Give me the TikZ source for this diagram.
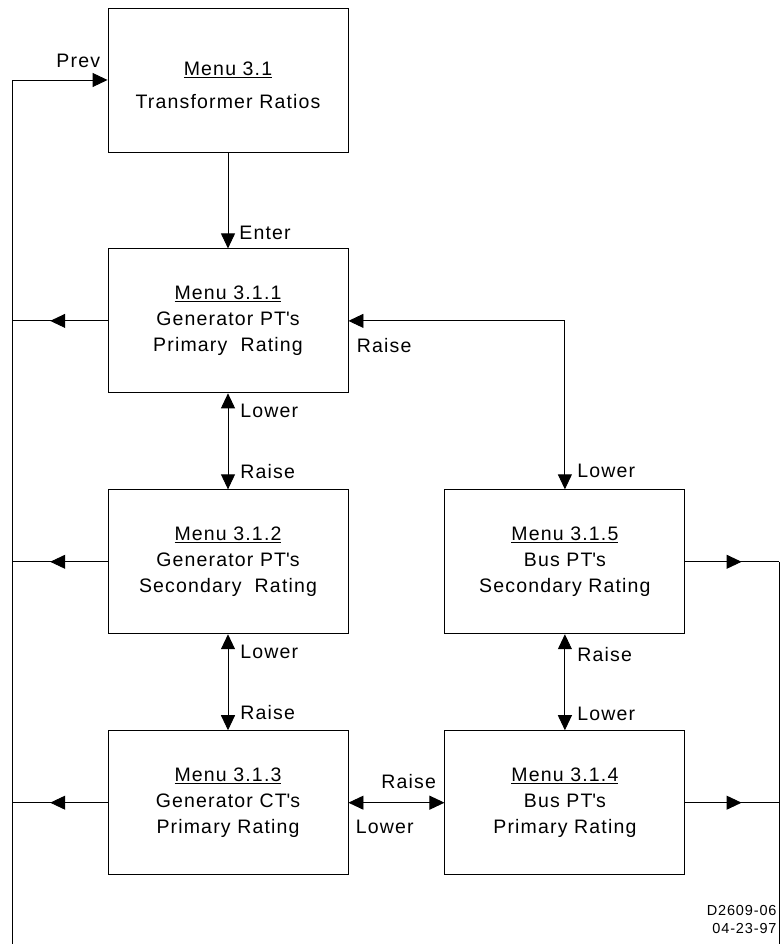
\documentclass[tikz,border=0pt]{standalone}
\usepackage{fontspec}
\setmainfont{Liberation Sans}[LetterSpace=6.0]
\usetikzlibrary{arrows.meta,positioning,decorations.markings}
\newcommand{\q}{\textquotesingle}

\begin{document}
\begin{tikzpicture}[x=1pt,y=1pt,node distance=96pt,line width=0.9pt,
    tip/.style={-{Triangle[length=15pt,width=14pt]}},
    dblarr/.style={{Triangle[length=15pt,width=14pt]}-{Triangle[length=15pt,width=14pt]}},
    midarrow/.style={postaction={decorate},decoration={markings,
        mark=at position 0.6 with {\arrow{Triangle[length=15pt,width=14pt]}}}},
    menu/.style={draw,minimum width=240pt,minimum height=144pt,inner sep=2pt,
        align=center,font=\fontsize{19.5}{26}\selectfont},
    lbl/.style={inner sep=0pt,font=\fontsize{19.5}{22}\selectfont}]
    \useasboundingbox (0,0) rectangle (781,944);

    \node[menu] (m31) at (228,864)        {\rule{0pt}{12pt}\\[-14pt]\underline{Menu 3.1}\\[7pt]Transformer Ratios};
    \node[menu] (m311) [below=of m31]     {\underline{Menu 3.1.1}\\Generator PT\q s\\Primary~~Rating};
    \node[menu] (m312) [below=of m311]    {\underline{Menu 3.1.2}\\Generator PT\q s\\Secondary~~Rating};
    \node[menu] (m313) [below=of m312]    {\underline{Menu 3.1.3}\\Generator CT\q s\\Primary Rating};
    \node[menu] (m315) [right=of m312]    {\underline{Menu 3.1.5}\\Bus PT\q s\\Secondary Rating};
    \node[menu] (m314) [right=of m313]    {\underline{Menu 3.1.4}\\Bus PT\q s\\Primary Rating};

    \coordinate (lbot) at (12,0);
    \coordinate (rbot) at (779,0);

    % Prev line on the left
    \draw[tip] (lbot) |- (m31.west);
    \node[lbl,anchor=base east] (prev) at ([shift={(-7,12)}]m31.west) {Prev};
    \foreach \m in {m311,m312,m313}
        \draw[midarrow] (\m.west) -- (\m.west -| lbot);

    % right side
    \draw[midarrow] (m315.east) -- (m315.east -| rbot);
    \draw[midarrow] (m314.east) -- (m314.east -| rbot);
    \draw (m315.east -| rbot) -- (rbot);

    % Enter / Raise / Lower
    \draw[tip] (m31.south) -- (m311.north);
    \node[lbl,anchor=west] (enter) at ([shift={(11,16)}]m311.north) {Enter};

    \draw[dblarr] (m311.south) -- (m312.north);
    \node[lbl,anchor=west] (lo1) at ([shift={(12,-18)}]m311.south) {Lower};
    \node[lbl,anchor=west] (ra1) at ([shift={(12,18)}]m312.north) {Raise};

    \draw[dblarr] (m312.south) -- (m313.north);
    \node[lbl,anchor=west] (lo2) at ([shift={(12,-18)}]m312.south) {Lower};
    \node[lbl,anchor=west] (ra2) at ([shift={(12,18)}]m313.north) {Raise};

    \draw[dblarr] (m311.east) -| (m315.north);
    \node[lbl,anchor=west] (ra3) at ([shift={(8,-25)}]m311.east) {Raise};
    \node[lbl,anchor=west] (lo3) at ([shift={(12,18)}]m315.north) {Lower};

    \draw[dblarr] (m315.south) -- (m314.north);
    \node[lbl,anchor=west] (ra4) at ([shift={(12,-20)}]m315.south) {Raise};
    \node[lbl,anchor=west] (lo4) at ([shift={(12,16)}]m314.north) {Lower};

    \draw[dblarr] (m313.east) -- (m314.west);
    \node[lbl,anchor=east] (ra5) at ([shift={(-8,21)}]m314.west) {Raise};
    \node[lbl,anchor=west] (lo5) at ([shift={(7,-24)}]m313.east) {Lower};

    \node[align=right,anchor=east,inner sep=0pt,font=\fontsize{14.5}{18}\selectfont]
        (dwg) at (777,24) {D2609-06\\04-23-97};
\end{tikzpicture}
\end{document}
